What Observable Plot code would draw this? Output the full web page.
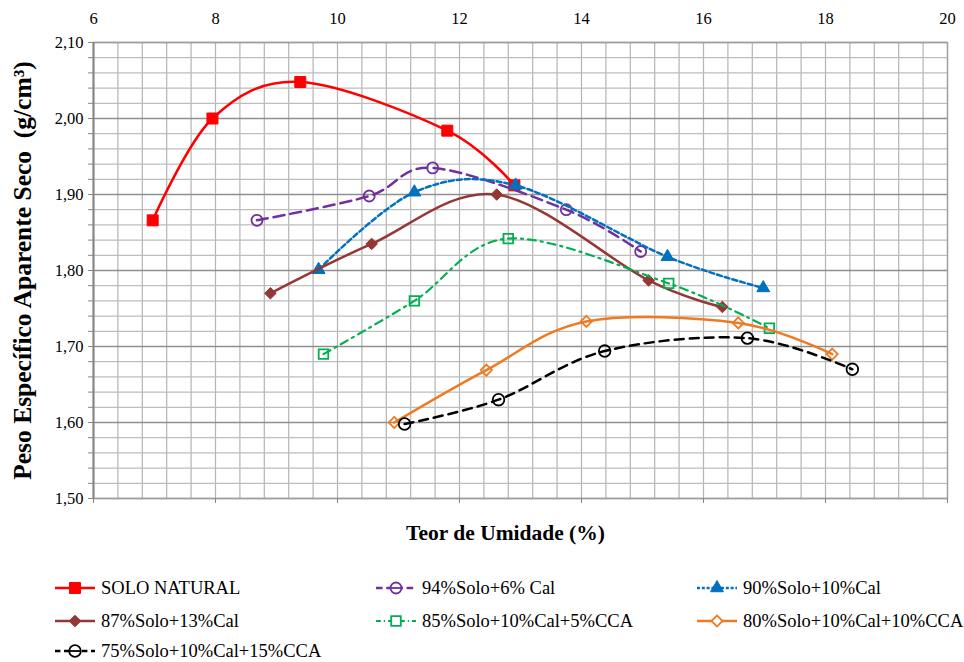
<!DOCTYPE html>
<html>
<head>
<meta charset="utf-8">
<script src="https://cdn.jsdelivr.net/npm/d3@7"></script>
<script src="https://cdn.jsdelivr.net/npm/@observablehq/plot@0.6"></script>
<style>
  body { margin: 0; background: #fff; font-family: "Liberation Serif", "Times New Roman", serif; }
  #wrap { position: relative; width: 964px; height: 662px; overflow: hidden; }
  #legend { position: absolute; left: 0; top: 0; width: 964px; height: 662px; pointer-events: none; }
  .item { position: absolute; display: flex; align-items: center; height: 24px; font-family: "Liberation Serif", serif; font-size: 18.5px; color: #000; white-space: nowrap; }
  .item svg { margin-right: 4px; overflow: visible; }
  #chart svg g[aria-label="y-axis tick label"] text,
  #chart svg g[aria-label="x-axis tick label"] text { font-size: 16.5px; font-family: "Liberation Serif", serif; }
</style>
</head>
<body>
<div id="wrap"><div id="chart"></div><div id="legend"></div></div>
<script>
// Compaction curves: moisture content (%) vs. dry unit weight (g/cm³)
const seriesNames = [
  "SOLO NATURAL",
  "94%Solo+6% Cal",
  "90%Solo+10%Cal",
  "87%Solo+13%Cal",
  "85%Solo+10%Cal+5%CCA",
  "80%Solo+10%Cal+10%CCA",
  "75%Solo+10%Cal+15%CCA"
];

const soloNaturalX = [6.97, 7.95, 9.39, 11.80, 12.90];
const soloNaturalY = [1.866, 2.000, 2.048, 1.984, 1.912];

const cal6X = [8.68, 10.52, 11.56, 13.75, 14.97];
const cal6Y = [1.866, 1.898, 1.935, 1.880, 1.825];

const cal10X = [9.69, 11.26, 12.92, 15.41, 16.98];
const cal10Y = [1.801, 1.903, 1.912, 1.818, 1.777];

const cal13X = [8.90, 10.56, 12.61, 15.10, 16.31];
const cal13Y = [1.770, 1.835, 1.900, 1.787, 1.752];

const cca5X = [9.77, 11.26, 12.80, 15.43, 17.08];
const cca5Y = [1.690, 1.760, 1.842, 1.783, 1.724];

const cca10X = [10.93, 12.44, 14.08, 16.57, 18.11];
const cca10Y = [1.600, 1.669, 1.733, 1.731, 1.690];

const cca15X = [11.10, 12.64, 14.38, 16.72, 18.44];
const cca15Y = [1.598, 1.630, 1.694, 1.711, 1.670];

const xTicks = [6, 8, 10, 12, 14, 16, 18, 20];
const yTicks = [1.50, 1.60, 1.70, 1.80, 1.90, 2.00, 2.10];

const xLabel = "Teor de Umidade (%)";
const yLabel = "Peso Específico Aparente Seco  (g/cm³)";

// Per-series styling
const styles = [
  {color: "#ff0000", dash: null,        width: 2.5, symbol: "square",   r: 6.2, fill: true},
  {color: "#7030a0", dash: "11,6",      width: 2.5, symbol: "circle",   r: 5.5, fill: false},
  {color: "#0070c0", dash: "5,3",       width: 2.5, symbol: "triangle", r: 4.8, fill: true},
  {color: "#953735", dash: null,        width: 2.5, symbol: "diamond2", r: 5.2, fill: true},
  {color: "#00b050", dash: "8,5,2,5",   width: 2.2, symbol: "square",   r: 5.4, fill: false},
  {color: "#ee7a22", dash: null,        width: 2.5, symbol: "diamond2", r: 5.0, fill: false},
  {color: "#000000", dash: "9,6",       width: 2.5, symbol: "circle",   r: 5.8, fill: false}
];

const xs = [soloNaturalX, cal6X, cal10X, cal13X, cca5X, cca10X, cca15X];
const ys = [soloNaturalY, cal6Y, cal10Y, cal13Y, cca5Y, cca10Y, cca15Y];

const series = seriesNames.map((name, i) => ({
  name,
  style: styles[i],
  points: xs[i].map((x, j) => ({x, y: ys[i][j]}))
}));

const minorX = d3.range(0, 36).map(k => 6 + k * 0.4);
const minorY = d3.range(75, 106).map(k => k / 50);
const fmt = d => d.toFixed(2).replace(".", ",");

const marks = [
  Plot.gridX(minorX, {stroke: "#b4b4b4", strokeOpacity: 1, strokeWidth: 1.2}),
  Plot.gridY(minorY, {stroke: "#bdbdbd", strokeOpacity: 1, strokeWidth: 1.2}),
  Plot.gridY(yTicks, {stroke: "#8f8f8f", strokeOpacity: 1, strokeWidth: 1.4}),
  Plot.frame({stroke: "#a0a0a0", strokeWidth: 1.4}),
  Plot.axisY(yTicks, {anchor: "left", tickSize: 5, tickPadding: 5, tickFormat: fmt, label: null, stroke: "#868686", fontSize: 16.5}),
  Plot.axisY(minorY, {anchor: "left", tickSize: 5, tickFormat: () => "", label: null, stroke: "#868686"}),
  Plot.ruleX([6], {stroke: "#868686", strokeWidth: 2}),
  Plot.axisX(xTicks, {anchor: "top", tickSize: 0, tickPadding: 19, label: null, fontSize: 16.5}),
  Plot.axisX(xTicks, {anchor: "bottom", tickSize: 5, tickFormat: () => "", label: null, stroke: "#868686"}),
  Plot.text([yLabel], {frameAnchor: "left", rotate: -90, textAnchor: "middle", dx: -71, fontWeight: "bold", fontSize: 25.5, fontFamily: "Liberation Serif"}),
  Plot.text([xLabel], {frameAnchor: "bottom", textAnchor: "middle", dx: -15, dy: 41, fontWeight: "bold", fontSize: 21.5, fontFamily: "Liberation Serif"})
];

for (const s of series) {
  const st = s.style;
  marks.push(Plot.line(s.points, {
    x: "x", y: "y", stroke: st.color, strokeWidth: st.width,
    strokeDasharray: st.dash, curve: "cardinal", tension: 0
  }));
  marks.push(Plot.dot(s.points, {
    x: "x", y: "y", symbol: st.symbol, r: st.r,
    fill: st.fill ? st.color : "none", stroke: st.color,
    strokeWidth: st.fill ? 1 : 1.8
  }));
}

const chart = Plot.plot({
  width: 964,
  height: 560,
  marginLeft: 93,
  marginRight: 17,
  marginTop: 42,
  marginBottom: 62,
  style: {fontFamily: "'Liberation Serif', 'Times New Roman', serif", fontSize: "16.5px", color: "#000", background: "#fff"},
  x: {domain: [6, 20]},
  y: {domain: [1.5, 2.1]},
  marks
});
document.getElementById("chart").appendChild(chart);

// Legend below the chart, three columns
const legend = document.getElementById("legend");
const colLeft = [55, 376, 697];
const rowTop = [576, 609, 639];
const symbolMap = {square: d3.symbolSquare, circle: d3.symbolCircle, triangle: d3.symbolTriangle, diamond2: d3.symbolDiamond2};
series.forEach((s, i) => {
  const st = s.style;
  const item = document.createElement("div");
  item.className = "item";
  item.style.left = colLeft[i % 3] + "px";
  item.style.top = rowTop[Math.floor(i / 3)] + "px";
  const svg = d3.create("svg").attr("width", 42).attr("height", 24);
  svg.append("line").attr("x1", 0).attr("x2", 40).attr("y1", 12).attr("y2", 12)
    .attr("stroke", st.color).attr("stroke-width", st.width)
    .attr("stroke-dasharray", st.dash ? st.dash.split(",").map(v => v * 0.6).join(",") : null);
  svg.append("path").attr("transform", "translate(20,12)")
    .attr("d", d3.symbol(symbolMap[st.symbol], Math.PI * st.r * st.r)())
    .attr("fill", st.fill ? st.color : "#fff").attr("stroke", st.color)
    .attr("stroke-width", st.fill ? 1 : 1.8);
  if (!st.fill && st.symbol === "circle") {
    svg.append("line").attr("x1", 15).attr("x2", 25).attr("y1", 12).attr("y2", 12)
      .attr("stroke", st.color).attr("stroke-width", 1.8);
  }
  item.appendChild(svg.node());
  const span = document.createElement("span");
  span.textContent = s.name;
  item.appendChild(span);
  legend.appendChild(item);
});
</script>
</body>
</html>
